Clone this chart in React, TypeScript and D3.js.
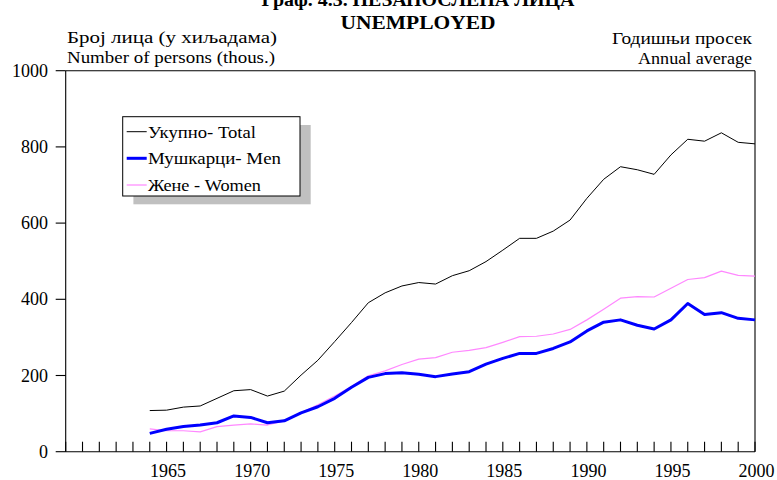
import React from "react";
import * as d3 from "d3";

const years = d3.range(1964, 2001);
const total = [108, 109, 117, 120, 140, 160, 163, 146, 159, 201, 240, 289, 339, 391, 417, 435, 444, 440, 462, 475, 499, 529, 560, 560, 579, 608, 665, 715, 748, 740, 728, 779, 820, 815, 837, 812, 808];
const men = [48, 59, 66, 70, 76, 94, 90, 76, 81, 102, 118, 140, 169, 195, 205, 207, 203, 197, 204, 210, 230, 245, 258, 258, 271, 288, 317, 340, 346, 332, 322, 346, 389, 360, 365, 350, 346];
const women = [60, 55, 55, 52, 66, 70, 73, 70, 81, 102, 123, 146, 171, 199, 212, 229, 243, 247, 261, 266, 273, 287, 302, 303, 309, 321, 346, 374, 403, 407, 406, 429, 452, 457, 474, 463, 461];
const yTicks = [0, 200, 400, 600, 800, 1000];
const xLabelYears = [1965, 1970, 1975, 1980, 1985, 1990, 1995, 2000];
const legendItems = ["Укупно- Total", "Мушкарци- Men", "Жене - Women"];

const FONT = "'Liberation Serif', 'Times New Roman', serif";

export default function App() {
  const x = d3.scaleLinear().domain([1959, 2000]).range([65.7, 755]);
  const y = d3.scaleLinear().domain([0, 1000]).range([451.7, 70.7]);
  const line = d3
    .line<number>()
    .x((_, i) => x(years[i]))
    .y((v) => y(v));

  const series = [
    { name: legendItems[0], data: total, color: "#000000", width: 1, len: 108 },
    { name: legendItems[1], data: men, color: "#0000ff", width: 3, len: 133 },
    { name: legendItems[2], data: women, color: "#ff88ff", width: 1.2, len: 113 },
  ];
  const drawOrder = [series[0], series[2], series[1]];
  const tickYears = d3.range(1959, 2001);

  const lx = 122.7, ly = 116.7, lw = 177.3, lh = 79.3;
  const rowY = [131.7, 158.3, 185];

  return (
    <svg
      width={777}
      height={480}
      style={{ position: "absolute", left: 0, top: 0, background: "#fff" }}
      fontFamily={FONT}
    >
      <rect x={0} y={0} width={777} height={480} fill="#fff" />
      {/* titles */}
      <text x={418} y={6} textAnchor="middle" fontWeight="bold" fontSize={18} textLength={313} lengthAdjust="spacingAndGlyphs">
        Граф. 4.3. НЕЗАПОСЛЕНА ЛИЦА
      </text>
      <text x={418} y={29} textAnchor="middle" fontWeight="bold" fontSize={18} textLength={155} lengthAdjust="spacingAndGlyphs">
        UNEMPLOYED
      </text>
      <text x={67} y={43} fontSize={16} textLength={210} lengthAdjust="spacingAndGlyphs">
        Број лица (у хиљадама)
      </text>
      <text x={67} y={63} fontSize={16} textLength={208} lengthAdjust="spacingAndGlyphs">
        Number of persons (thous.)
      </text>
      <text x={752} y={44} fontSize={16} textAnchor="end" textLength={140} lengthAdjust="spacingAndGlyphs">
        Годишњи просек
      </text>
      <text x={752} y={64} fontSize={16} textAnchor="end" textLength={114} lengthAdjust="spacingAndGlyphs">
        Annual average
      </text>

      {/* frame */}
      <line x1={x(1959)} x2={x(2000)} y1={y(1000)} y2={y(1000)} stroke="#000" strokeWidth={1.1} />
      <line x1={x(2000)} x2={x(2000)} y1={y(1000)} y2={y(0)} stroke="#000" strokeWidth={1.1} />
      <line x1={x(1959)} x2={x(1959)} y1={y(1000)} y2={y(0)} stroke="#000" strokeWidth={1.1} />
      <line x1={x(1959)} x2={x(2000)} y1={y(0)} y2={y(0)} stroke="#000" strokeWidth={1.1} />

      {/* y ticks */}
      {yTicks.map((t) => (
        <g key={t}>
          <line x1={x(1959) - 10} x2={x(1959)} y1={y(t)} y2={y(t)} stroke="#000" strokeWidth={1.1} />
          <text x={48} y={y(t) + 6} textAnchor="end" fontSize={18}>
            {t}
          </text>
        </g>
      ))}

      {/* x ticks */}
      {tickYears.map((yr) => (
        <line key={yr} x1={x(yr)} x2={x(yr)} y1={y(0)} y2={y(0) - 10} stroke="#000" strokeWidth={1.1} />
      ))}
      {xLabelYears.map((yr) => (
        <text key={yr} x={x(yr) + 1.5} y={477} textAnchor="middle" fontSize={18}>
          {yr}
        </text>
      ))}

      {/* lines */}
      {drawOrder.map((s) => (
        <path key={s.name} d={line(s.data) || ""} fill="none" stroke={s.color} strokeWidth={s.width} strokeLinejoin="round" />
      ))}

      {/* legend */}
      <rect x={lx + 10.7} y={ly + 8.3} width={lw} height={lh} fill="#c0c0c0" />
      <rect x={lx} y={ly} width={lw} height={lh} fill="#fff" stroke="#000" strokeWidth={1} />
      {series.map((s, i) => (
        <g key={s.name}>
          <line x1={126.7} x2={146.7} y1={rowY[i]} y2={rowY[i]} stroke={s.color} strokeWidth={s.width} />
          <text x={148} y={rowY[i] + 6} fontSize={17} textLength={s.len} lengthAdjust="spacingAndGlyphs">
            {s.name}
          </text>
        </g>
      ))}
    </svg>
  );
}
